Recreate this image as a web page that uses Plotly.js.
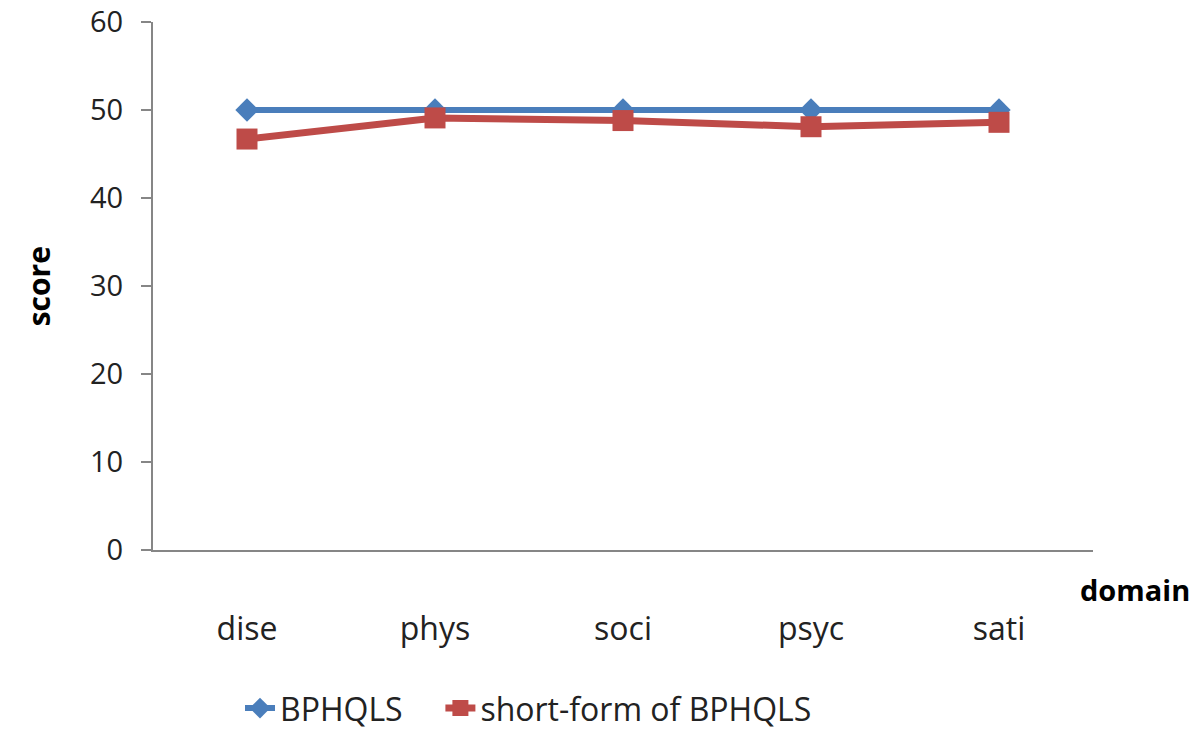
<!DOCTYPE html>
<html>
<head>
<meta charset="utf-8">
<script src="https://cdn.plot.ly/plotly-3.0.1.min.js"></script>
<style>
  html, body { margin: 0; padding: 0; background: #fff; }
  #chart { width: 1200px; height: 734px; }
</style>
</head>
<body>
<div id="chart"></div>
<script>
// domains on the x axis
const domains = ['dise', 'phys', 'soci', 'psyc', 'sati'];

// scores
const bphqls = [50, 50, 50, 50, 50];
const shortForm = [46.7, 49.1, 48.8, 48.1, 48.6];

const yTicks = [0, 10, 20, 30, 40, 50, 60];

const FONT = '"Liberation Sans Narrow", "Open Sans", "DejaVu Sans Condensed", sans-serif';
const AXIS_GREY = '#868686';

const traceFull = {
    x: domains,
    y: bphqls,
    name: 'BPHQLS',
    type: 'scatter',
    mode: 'lines+markers',
    line: { color: '#4a7ebb', width: 6 },
    marker: { symbol: 'diamond', size: 18, color: '#4a7ebb' },
    legend: 'legend'
};

const traceShort = {
    x: domains,
    y: shortForm,
    name: 'short-form of BPHQLS',
    type: 'scatter',
    mode: 'lines+markers',
    line: { color: '#be4b48', width: 7 },
    marker: { symbol: 'square', size: 21, color: '#be4b48' },
    legend: 'legend2'
};

const legendStyle = {
    orientation: 'h',
    xref: 'container', yref: 'container',
    y: 0.035, xanchor: 'left', yanchor: 'middle',
    font: { family: FONT, size: 32, color: '#222' },
    bgcolor: 'rgba(0,0,0,0)'
};

const layout = {
    width: 1200,
    height: 734,
    paper_bgcolor: '#fff',
    plot_bgcolor: '#fff',
    margin: { l: 153, r: 107, t: 22, b: 184 },
    font: { family: FONT, color: '#222', size: 30 },
    xaxis: {
        type: 'category',
        range: [-0.5, 4.5],
        showgrid: false,
        zeroline: false,
        showline: true,
        linecolor: AXIS_GREY,
        linewidth: 2,
        ticks: '',
        ticklabelstandoff: 50,
        tickfont: { family: FONT, size: 32, color: '#222' },
        fixedrange: true
    },
    yaxis: {
        range: [0, 60],
        tickvals: yTicks,
        showgrid: false,
        zeroline: false,
        showline: true,
        linecolor: AXIS_GREY,
        linewidth: 2,
        ticks: 'outside',
        ticklen: 10,
        tickwidth: 2,
        tickcolor: AXIS_GREY,
        ticklabelstandoff: 12,
        tickfont: { family: FONT, size: 29, color: '#222' },
        fixedrange: true
    },
    annotations: [
        {
            text: '<b>score</b>', xref: 'paper', yref: 'paper',
            x: -0.122, y: 0.5, xanchor: 'center', yanchor: 'middle',
            textangle: -90, showarrow: false,
            font: { family: FONT, size: 30, color: '#000' }
        },
        {
            text: '<b>domain</b>', xref: 'paper', yref: 'paper',
            x: 1.045, y: -0.075, xanchor: 'center', yanchor: 'middle',
            showarrow: false,
            font: { family: FONT, size: 29, color: '#000' }
        }
    ],
    showlegend: true,
    legend: Object.assign({}, legendStyle, { x: 0.2 }),
    legend2: Object.assign({}, legendStyle, { x: 0.367 })
};

Plotly.newPlot('chart', [traceFull, traceShort], layout, { displayModeBar: false, staticPlot: true });
</script>
</body>
</html>
